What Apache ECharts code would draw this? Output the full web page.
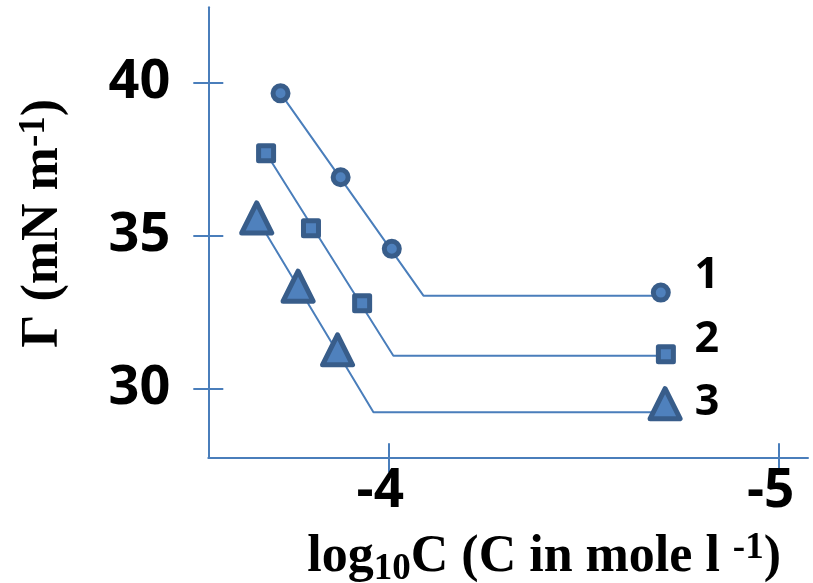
<!DOCTYPE html>
<html><head><meta charset="utf-8">
<script src="https://cdn.jsdelivr.net/npm/echarts@6/dist/echarts.min.js"></script>
<style>html,body{margin:0;padding:0;background:#fff}#c{width:813px;height:583px}</style>
</head><body><div id="c"></div>
<script>
// ---- data ----
const xTicks = [-4, -5];
const yTicks = [30, 35, 40];
const seriesNames = ['1', '2', '3'];
const s1X = [-3.724, -3.878, -4.009, -4.698];
const s1Y = [39.65, 36.91, 34.57, 33.14];
const s2X = [-3.687, -3.802, -3.933, -4.711];
const s2Y = [37.69, 35.24, 32.79, 31.13];
const s3X = [-3.663, -3.769, -3.870, -4.709];
const s3Y = [35.58, 33.35, 31.27, 29.51];
const fit1X = [-3.724, -4.090, -4.698];
const fit1Y = [39.65, 33.04, 33.04];
const fit2X = [-3.687, -4.013, -4.711];
const fit2Y = [37.69, 31.08, 31.08];
const fit3X = [-3.663, -3.962, -4.709];
const fit3Y = [35.58, 29.23, 29.23];
const xRange = [-5.075, -3.539];
const yRange = [27.76, 42.46];

// ---- styles ----
const axisColor = '#4A7EBB';
const lineColor = '#4A7EBB';
const fillColor = '#4F81BD';
const borderColor = '#385D8A';
const sansBold = '"Open Sans"';
const serif = '"Liberation Serif", "Times New Roman", serif';

const zip = (xs, ys) => xs.map((x, i) => [x, ys[i]]);

const markerDefs = [
  {x: s1X, y: s1Y, symbol: 'circle', size: 15, offset: [46, -17]},
  {x: s2X, y: s2Y, symbol: 'rect', size: 15, offset: [41, -14]},
  {x: s3X, y: s3Y, symbol: 'triangle', size: 30, offset: [42, -1]}
];
const fits = [[fit1X, fit1Y], [fit2X, fit2Y], [fit3X, fit3Y]];

const series = [];
fits.forEach((f) => {
  series.push({
    type: 'line', data: zip(f[0], f[1]), symbol: 'none', z: 2,
    lineStyle: {color: lineColor, width: 2}, silent: true, animation: false
  });
});
markerDefs.forEach((m, si) => {
  const pts = zip(m.x, m.y);
  series.push({
    type: 'scatter', z: 5, symbol: m.symbol, symbolSize: m.size, animation: false,
    itemStyle: {color: fillColor, borderColor: borderColor, borderWidth: 5, borderJoin: 'round', opacity: 1},
    data: pts.map((p, i) => i === pts.length - 1 ? {
      value: p,
      label: {show: true, formatter: seriesNames[si], position: 'inside', offset: m.offset,
        color: '#000', fontFamily: sansBold, fontWeight: 'bold', fontSize: 43}
    } : {value: p})
  });
});

const richName = {
  a: {fontFamily: serif, fontWeight: 'bold', fontSize: 52, color: '#000'},
  sub: {fontFamily: serif, fontWeight: 'bold', fontSize: 37, color: '#000', padding: [24, 0, 0, 0]},
  sup: {fontFamily: serif, fontWeight: 'bold', fontSize: 37, color: '#000', padding: [0, 0, 18, 0]}
};

const baseX = {
  type: 'value', min: xRange[0], max: xRange[1], inverse: true, position: 'bottom',
  splitLine: {show: false}
};
const baseY = {
  type: 'value', min: yRange[0], max: yRange[1], position: 'left',
  splitLine: {show: false}
};

const option = {
  animation: false,
  backgroundColor: '#fff',
  grid: {left: 208.3, right: 5, top: 7.3, bottom: 125.7, containLabel: false, outerBoundsMode: 'none'},
  xAxis: [
    Object.assign({}, baseX, {
      axisLine: {show: true, lineStyle: {color: axisColor, width: 2}},
      axisTick: {show: true, inside: false, length: 15, customValues: xTicks, lineStyle: {color: axisColor, width: 2}},
      axisLabel: {show: true, customValues: xTicks, margin: 8, color: '#000', fontFamily: sansBold, fontWeight: 'bold', fontSize: 53,
        padding: [0, 16, 0, 0], formatter: v => String(v)},
      name: '{a|log}{sub|10}{a|C (C in mole l }{sup|-1}{a|)}',
      nameLocation: 'middle', nameGap: 70,
      nameTextStyle: {rich: richName, padding: [0, 0, 0, 72]}
    }),
    Object.assign({}, baseX, {
      axisLine: {show: false},
      axisTick: {show: true, inside: true, length: 14, customValues: xTicks, lineStyle: {color: axisColor, width: 2}},
      axisLabel: {show: false}
    })
  ],
  yAxis: [
    Object.assign({}, baseY, {
      axisLine: {show: true, lineStyle: {color: axisColor, width: 2}},
      axisTick: {show: true, inside: false, length: 15, customValues: yTicks, lineStyle: {color: axisColor, width: 2}},
      axisLabel: {show: true, customValues: yTicks, margin: 38, color: '#000', fontFamily: sansBold, fontWeight: 'bold', fontSize: 54,
        formatter: v => String(v)},
      name: '{a|Γ (mN m}{sup|-1}{a|)}',
      nameLocation: 'middle', nameGap: 137,
      nameTextStyle: {rich: richName, padding: [0, 0, 0, 18]}
    }),
    Object.assign({}, baseY, {
      axisLine: {show: false},
      axisTick: {show: true, inside: true, length: 15, customValues: yTicks, lineStyle: {color: axisColor, width: 2}},
      axisLabel: {show: false}
    })
  ],
  series: series
};

const chart = echarts.init(document.getElementById('c'), null, {renderer: 'canvas'});
chart.setOption(option);
</script>
</body></html>
